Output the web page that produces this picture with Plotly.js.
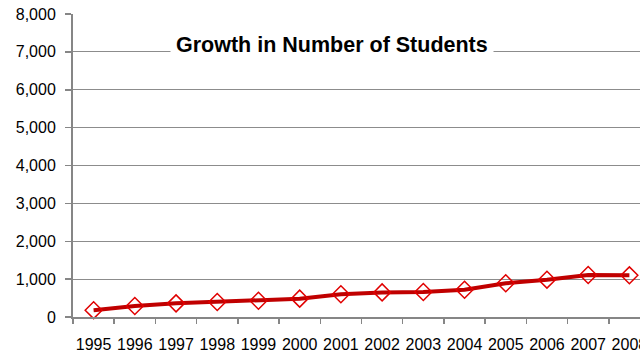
<!DOCTYPE html>
<html><head><meta charset="utf-8">
<script src="https://cdn.plot.ly/plotly-3.0.1.min.js"></script>
<style>html,body{margin:0;padding:0;overflow:hidden;width:640px;height:352px;background:#fff}</style>
</head><body><div id="chart"></div>
<script>
const years = ['1995','1996','1997','1998','1999','2000','2001','2002','2003','2004','2005','2006','2007','2008'];
const students = [180, 290, 360, 395, 430, 485, 600, 650, 660, 720, 890, 985, 1110, 1100];
const yTicks = [0,1000,2000,3000,4000,5000,6000,7000,8000];
const yTickText = ['0','1,000','2,000','3,000','4,000','5,000','6,000','7,000','8,000'];
const titleText = 'Growth in Number of Students';

Plotly.newPlot('chart', [{
  type: 'scatter', mode: 'lines+markers',
  x: years, y: students,
  line: {color: '#C00000', width: 4},
  marker: {symbol: 'diamond-open', size: 13, color: '#E00000', line: {width: 1.5, color: '#E00000'}},
  cliponaxis: false
}], {
  width: 660, height: 352,
  margin: {l: 73, r: 10, t: 14, b: 35},
  paper_bgcolor: '#fff', plot_bgcolor: '#fff',
  showlegend: false,
  font: {family: 'Liberation Sans, Arial, sans-serif', size: 16, color: '#000'},
  xaxis: {type: 'category', range: [-0.5, 13.5], showline: true, linecolor: '#868686', linewidth: 2,
    ticks: 'outside', tickson: 'boundaries', ticklen: 5, tickcolor: '#868686', tickwidth: 1.5,
    tickangle: 0, ticklabelstandoff: 12, showgrid: false, zeroline: false, tickfont: {size: 16}},
  yaxis: {range: [0, 8000], tickvals: yTicks, ticktext: yTickText, showline: true, linecolor: '#868686', linewidth: 2,
    ticks: 'outside', ticklen: 6, tickcolor: '#868686', tickwidth: 1.5, ticklabelstandoff: 6,
    showgrid: true, gridcolor: '#8c8c8c', gridwidth: 1.2, zeroline: false, tickfont: {size: 16}},
  annotations: [{
    text: '<b>' + titleText + '</b>', xref: 'paper', yref: 'paper', x: (332-73)/577, y: (317-45)/303,
    xanchor: 'center', yanchor: 'middle', showarrow: false, bgcolor: '#fff', borderpad: 5,
    font: {size: 21.5, color: '#000', family: 'Liberation Sans, Arial, sans-serif'}
  }]
}, {displayModeBar: false, staticPlot: true});
</script></body></html>
